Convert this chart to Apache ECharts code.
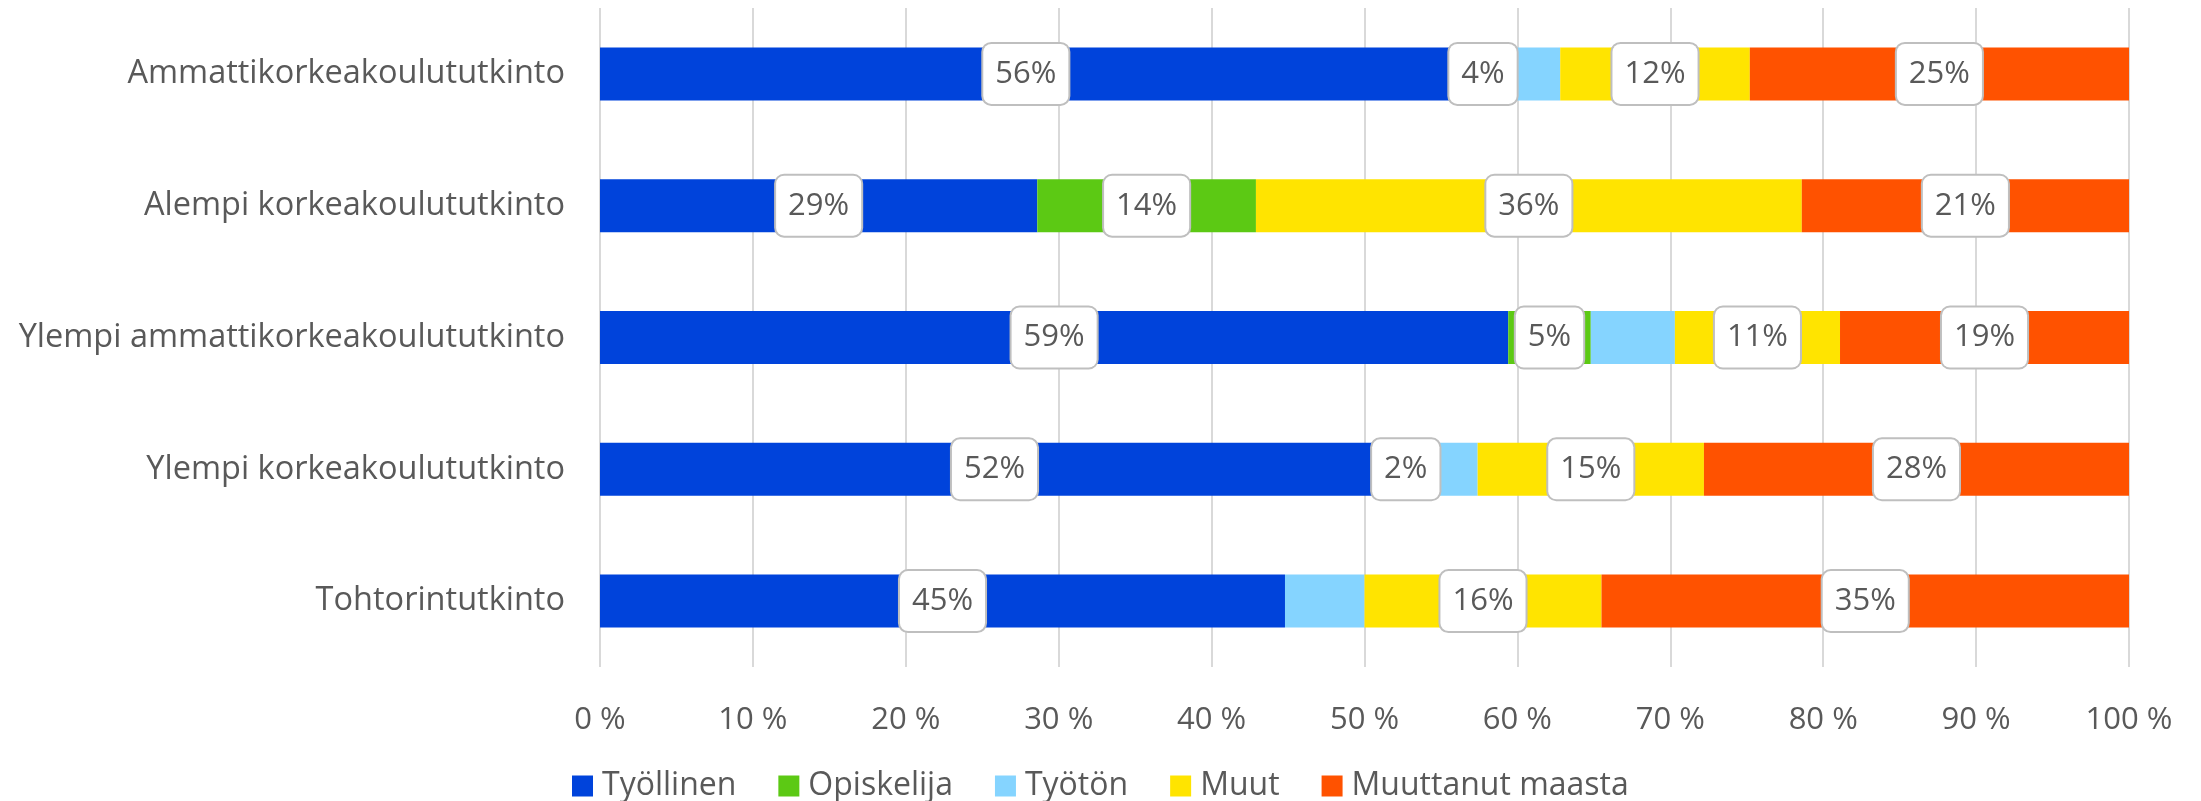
<!DOCTYPE html>
<html>
<head>
<meta charset="utf-8">
<script src="https://cdn.jsdelivr.net/npm/echarts@6/dist/echarts.min.js"></script>
<style>
  html, body { margin: 0; padding: 0; background: #fff; }
  #main { width: 2201px; height: 801px; }
</style>
</head>
<body>
<div id="main"></div>
<script>
const categories = ['Ammattikorkeakoulututkinto', 'Alempi korkeakoulututkinto', 'Ylempi ammattikorkeakoulututkinto', 'Ylempi korkeakoulututkinto', 'Tohtorintutkinto'];
const seriesNames = ['Työllinen', 'Opiskelija', 'Työtön', 'Muut', 'Muuttanut maasta'];
const tyollinen = [55.7, 28.6, 59.4, 51.6, 44.8];
const opiskelija = [4.1, 14.3, 5.4, 2.2, 0];
const tyoton = [3.0, 0, 5.5, 3.6, 5.2];
const muut = [12.4, 35.7, 10.8, 14.8, 15.5];
const muuttanut = [24.8, 21.4, 18.9, 27.8, 34.5];
const xTicks = [0, 10, 20, 30, 40, 50, 60, 70, 80, 90, 100];

const colors = ['#0043DB', '#5CC914', '#85D4FF', '#FFE400', '#FF5200'];
const values = [tyollinen, opiskelija, tyoton, muut, muuttanut];
// Työtön segments have no labels in the original
const labelled = [true, true, false, true, true];
const font = '"Open Sans", "DejaVu Sans", sans-serif';
const grey = '#595959';

const series = values.map((vals, i) => ({
  name: seriesNames[i],
  type: 'bar',
  stack: 'total',
  barWidth: 53,
  itemStyle: { color: colors[i] },
  label: {
    show: labelled[i],
    position: 'inside',
    formatter: p => Math.round(p.value) + '%',
    color: grey,
    fontFamily: font,
    fontSize: 31,
    lineHeight: 36,
    backgroundColor: '#fff',
    borderColor: '#bfbfbf',
    borderWidth: 2,
    borderRadius: 8,
    padding: [12, 12, 12, 12]
  },
  data: vals.map(v => v === 0 ? { value: v, label: { show: false } } : v)
}));

const option = {
  animation: false,
  backgroundColor: '#fff',
  color: colors,
  grid: { left: 600, right: 72, top: 8, bottom: 134 },
  legend: {
    data: seriesNames,
    top: 765,
    left: 567,
    itemWidth: 21,
    itemHeight: 21,
    itemGap: 42,
    icon: 'rect',
    textStyle: { color: grey, fontFamily: font, fontSize: 32, padding: [0, 0, 0, 4] }
  },
  xAxis: {
    type: 'value',
    min: xTicks[0],
    max: xTicks[xTicks.length - 1],
    interval: xTicks[1] - xTicks[0],
    axisLine: { show: false },
    axisTick: { show: false },
    splitLine: { lineStyle: { color: '#d9d9d9', width: 2 } },
    axisLabel: { formatter: '{value} %', color: grey, fontFamily: font, fontSize: 31, margin: 38 }
  },
  yAxis: {
    type: 'category',
    inverse: true,
    data: categories,
    axisLine: { show: false },
    axisTick: { show: false },
    axisLabel: { color: grey, fontFamily: font, fontSize: 32.5, margin: 35 }
  },
  series: series
};

const myChart = echarts.init(document.getElementById('main'));
myChart.setOption(option);
</script>
</body>
</html>
